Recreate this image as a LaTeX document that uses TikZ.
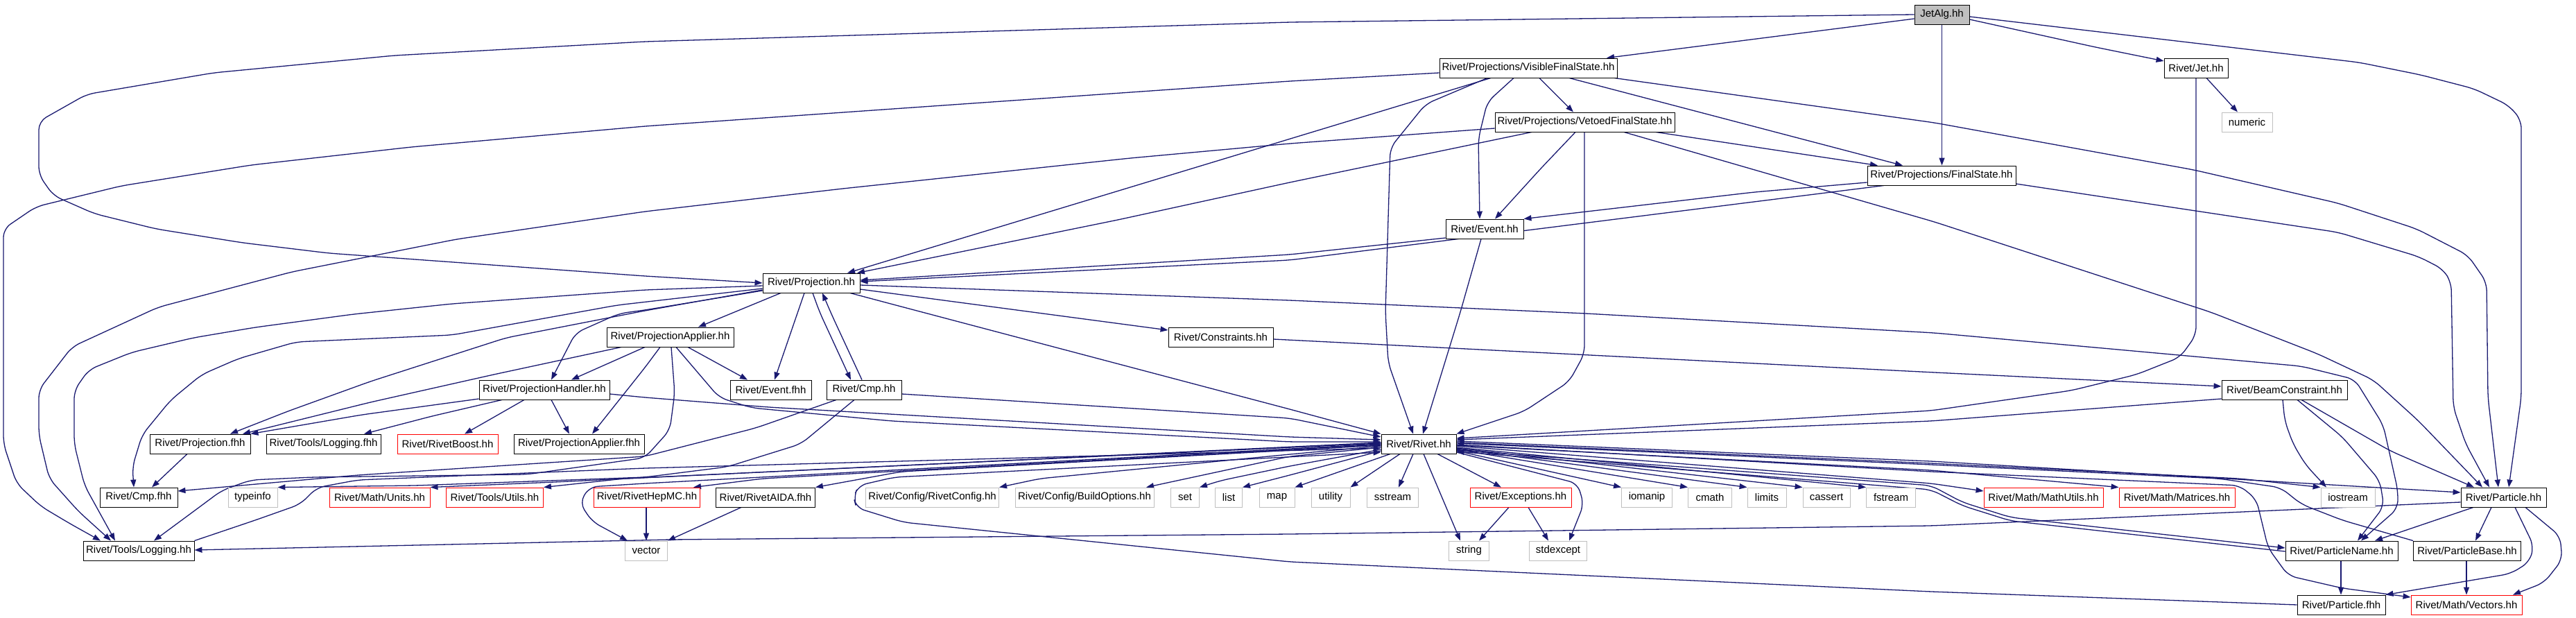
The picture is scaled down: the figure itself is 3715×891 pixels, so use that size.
\documentclass[tikz,border=0pt]{standalone}
\usepackage{fontspec}
\setmainfont{Liberation Sans}
\usetikzlibrary{arrows.meta,backgrounds}
\definecolor{edgeblue}{RGB}{25,25,112}
\definecolor{lgray}{RGB}{191,191,191}
\newcommand\nodefont{\fontsize{15}{18}\selectfont}
\begin{document}
\begin{tikzpicture}[x=1pt,y=-1pt,
  nd/.style={draw=black, line width=0.9pt, fill=white, minimum height=28pt, inner sep=0pt, font=\nodefont, text=black},
  sys/.style={nd, draw=lgray},
  und/.style={nd, draw=red},
  e/.style={draw=edgeblue, line width=1.3pt, -{Triangle[length=11pt,width=8pt]}, rounded corners=12pt}]
\useasboundingbox (0,0) rectangle (3715,891);
% nodes
\node[nd, fill=lgray, minimum width=79pt] (jetalg) at (2800.5,21) {JetAlg.hh};
\node[nd, minimum width=256pt] (vfs) at (2204,98) {Rivet/Projections/VisibleFinalState.hh};
\node[nd, minimum width=259pt] (vetoed) at (2285.5,176) {Rivet/Projections/VetoedFinalState.hh};
\node[nd, minimum width=214pt] (fs) at (2800,253) {Rivet/Projections/FinalState.hh};
\node[nd, minimum width=92pt] (jet) at (3167,98) {Rivet/Jet.hh};
\node[sys, minimum width=73pt] (numeric) at (3240.5,176) {numeric};
\node[nd, minimum width=112pt] (event) at (2141,330) {Rivet/Event.hh};
\node[nd, minimum width=140pt] (proj) at (1170,408) {Rivet/Projection.hh};
\node[nd, minimum width=183pt] (papp) at (966.5,486) {Rivet/ProjectionApplier.hh};
\node[nd, minimum width=151pt] (constr) at (1760.5,486) {Rivet/Constraints.hh};
\node[nd, minimum width=188pt] (phand) at (785,562) {Rivet/ProjectionHandler.hh};
\node[nd, minimum width=117pt] (eventf) at (1111.5,562) {Rivet/Event.fhh};
\node[nd, minimum width=108pt] (cmp) at (1246,562) {Rivet/Cmp.hh};
\node[nd, minimum width=181pt] (beam) at (3294.5,562) {Rivet/BeamConstraint.hh};
\node[nd, minimum width=145pt] (projf) at (288.5,640) {Rivet/Projection.fhh};
\node[nd, minimum width=165pt] (logf) at (466.5,640) {Rivet/Tools/Logging.fhh};
\node[und, minimum width=145pt] (boost) at (645.5,640) {Rivet/RivetBoost.hh};
\node[nd, minimum width=188pt] (pappf) at (835,640) {Rivet/ProjectionApplier.fhh};
\node[nd, minimum width=108pt] (rivet) at (2046,640) {Rivet/Rivet.hh};
\node[nd, minimum width=112pt] (cmpf) at (200,717) {Rivet/Cmp.fhh};
\node[sys, minimum width=71pt] (typeinfo) at (364.5,717) {typeinfo};
\node[und, minimum width=145pt] (units) at (547.5,717) {Rivet/Math/Units.hh};
\node[und, minimum width=140pt] (utils) at (713.5,717) {Rivet/Tools/Utils.hh};
\node[und, minimum width=153pt] (hepmc) at (933,717) {Rivet/RivetHepMC.hh};
\node[nd, minimum width=143pt] (aida) at (1104,717) {Rivet/RivetAIDA.fhh};
\node[sys, minimum width=192pt] (rconfig) at (1344.6,717) {Rivet/Config/RivetConfig.hh};
\node[sys, minimum width=200pt] (bopts) at (1564,717) {Rivet/Config/BuildOptions.hh};
\node[sys, minimum width=41pt] (nset) at (1709,717) {set};
\node[sys, minimum width=39pt] (nlist) at (1772,717) {list};
\node[sys, minimum width=51pt] (nmap) at (1841.5,717) {map};
\node[sys, minimum width=56pt] (utility) at (1919,717) {utility};
\node[sys, minimum width=74pt] (sstream) at (2008.5,717) {sstream};
\node[und, minimum width=146pt] (except) at (2193,717) {Rivet/Exceptions.hh};
\node[sys, minimum width=73pt] (iomanip) at (2375,717) {iomanip};
\node[sys, minimum width=63pt] (cmath) at (2466,717) {cmath};
\node[sys, minimum width=56pt] (limits) at (2548,717) {limits};
\node[sys, minimum width=68pt] (cassert) at (2634,717) {cassert};
\node[sys, minimum width=71pt] (fstream) at (2727,717) {fstream};
\node[und, minimum width=172pt] (mathutils) at (2947,717) {Rivet/Math/MathUtils.hh};
\node[und, minimum width=167pt] (matrices) at (3139.5,717) {Rivet/Math/Matrices.hh};
\node[sys, minimum width=78pt] (iostream) at (3386,717) {iostream};
\node[nd, minimum width=123pt] (particle) at (3610.5,717) {Rivet/Particle.hh};
\node[nd, minimum width=160pt] (logging) at (200,794) {Rivet/Tools/Logging.hh};
\node[sys, minimum width=61pt] (nvector) at (932,794) {vector};
\node[sys, minimum width=58pt] (nstring) at (2118.5,794) {string};
\node[sys, minimum width=83pt] (stdexcept) at (2247,794) {stdexcept};
\node[nd, minimum width=162pt] (pname) at (3377,794) {Rivet/ParticleName.hh};
\node[nd, minimum width=155pt] (pbase) at (3558,794) {Rivet/ParticleBase.hh};
\node[nd, minimum width=127pt] (particlef) at (3376.5,872) {Rivet/Particle.fhh};
\node[und, minimum width=160pt] (vectors) at (3557,872) {Rivet/Math/Vectors.hh};
% edges
\begin{scope}[on background layer]
% JetAlg
\draw[e] (jetalg.west) -- (1860,32) -- (930,60) -- (569,80) -- (308,105) -- (125,136) -- (56,175) -- (56,252) -- (77,282) -- (136,308) -- (225,330) -- (350,350) -- (474,365) -- (930,398) -- (proj.west);
\draw[e] (jetalg.west |- 0,27) -- (vfs.north -| 2317,0);
\draw[e] (jetalg.south) -- (jetalg.south |- fs.north);
\draw[e] (jetalg.east |- 0,28) -- (3022,68) -- (jet.west |- 0,88);
\draw[e] (jetalg.east |- 0,24) -- (3402,90) -- (3491,108) -- (3568,128) -- (3618,152) -- (3636,173) -- (3636,573) -- (particle.north -| 3618,0);
% VisibleFinalState
\draw[e] (vfs.south -| 2220,0) -- (vetoed.north -| 2269,0);
\draw[e] (vfs.south -| 2183,0) -- (2145,147) -- (2132,200) -- (event.north -| 2134,0);
\draw[e] (vfs.south -| 2150,0) -- (proj.north -| 1222,0);
\draw[e] (vfs.south -| 2145,0) -- (2056,150) -- (2005,213) -- (1998,450) -- (2002,523) -- (rivet.north -| 2038,0);
\draw[e] (vfs.south -| 2263,0) -- (fs.north -| 2744,0);
\draw[e] (vfs.south -| 2328,0) -- (2790,177) -- (3164,245) -- (3372,293) -- (3485,330) -- (3559,368) -- (3586,407) -- (3588,573) -- (particle.north -| 3603,0);
\draw[e] (vfs.west |- 0,105) -- (1860,117) -- (930,182) -- (593,212) -- (362,238) -- (175,268) -- (52,298) -- (5,330) -- (5,640) -- (24,697) -- (59,730) -- (101,755) -- (logging.north -| 145,0);
% VetoedFinalState
\draw[e] (vetoed.west |- 0,185) -- (1860,207) -- (1630,228) -- (1215,272) -- (930,305) -- (658,345) -- (421,392) -- (228,443) -- (104,500) -- (56,562) -- (56,627) -- (71,690) -- (113,737) -- (logging.north -| 160,0);
\draw[e] (vetoed.south -| 2209,0) -- (1860,263) -- (1612,317) -- (proj.north -| 1236,0);
\draw[e] (vetoed.south -| 2272,0) -- (2222,243) -- (event.north -| 2156,0);
\draw[e] (vetoed.south -| 2285,0) -- (2285,510) -- (2263,550) -- (2198,593) -- (rivet.north east);
\draw[e] (vetoed.south -| 2388,0) -- (fs.north -| 2708,0);
\draw[e] (vetoed.south -| 2342,0) -- (2790,320) -- (3188,450) -- (3342,510) -- (3423,548) -- (3488,607) -- (particle.north -| 3580,0);
% FinalState
\draw[e] (fs.west |- 0,263) -- (2530,277) -- (event.north east);
\draw[e] (fs.south -| 2717,0) -- (1860,375) -- (proj.east |- 0,406);
\draw[e] (fs.east |- 0,265) -- (3372,335) -- (3488,370) -- (3523,388) -- (3535,407) -- (3538,587) -- (3556,640) -- (particle.north -| 3590,0);
% Jet, Event
\draw[e] (jet.south -| 3182,0) -- (numeric.north -| 3227,0);
\draw[e] (jet.south) -- (3167,483) -- (3144,515) -- (3081,540) -- (2987,563) -- (2785,592) -- (rivet.east |- 0,632);
\draw[e] (event.west |- 0,343) -- (1860,367) -- (proj.east |- 0,404);
\draw[e] (event.south -| 2136,0) -- (2106,450) -- (rivet.north -| 2052,0);
% Projection.hh
\draw[e] (proj.south -| 1126,0) -- (papp.north -| 1007,0);
\draw[e] (proj.west |- 0,419) -- (930,447) -- (893,452) -- (830,480) -- (phand.north -| 795,0);
\draw[e] (proj.west |- 0,418) -- (930,448) -- (730,487) -- (534,550) -- (415,593) -- (projf.north -| 332,0);
\draw[e] (proj.west |- 0,416) -- (890,440) -- (652,483) -- (427,493) -- (344,517) -- (291,540) -- (246,577) -- (205,627) -- (191,673) -- (cmpf.north -| 193,0);
\draw[e] (proj.west |- 0,412) -- (930,418) -- (652,438) -- (510,453) -- (368,472) -- (279,487) -- (190,508) -- (128,533) -- (107,563) -- (107,640) -- (122,700) -- (logging.north -| 166,0);
\draw[e] (proj.south -| 1160,0) -- (eventf.north -| 1117,0);
\draw[e] (proj.south -| 1172,0) -- (1182,450) -- (cmp.north -| 1227,0);
\draw[e] (cmp.north -| 1243,0) -- (1200,455) -- (proj.south -| 1186,0);
\draw[e] (proj.south -| 1226,0) -- (1292,440) -- (1860,590) -- (rivet.north west);
\draw[e] (proj.east |- 0,417) -- (constr.west |- 0,476);
\draw[e] (proj.east |- 0,411) -- (1860,433) -- (2287,452) -- (2790,480) -- (3319,528) -- (3396,547) -- (3437,613) -- (3458,707) -- (3458,733) -- (pname.north -| 3405,0);
% ProjectionApplier.hh
\draw[e] (papp.south -| 896,0) -- (712,540) -- (534,580) -- (projf.north -| 350,0);
\draw[e] (papp.south -| 930,0) -- (phand.north -| 824,0);
\draw[e] (papp.south -| 952,0) -- (930,530) -- (pappf.north -| 854,0);
\draw[e] (papp.south -| 968,0) -- (973,567) -- (966,620) -- (930,660) -- (760,684) -- (451,688) -- (362,692) -- (320,707) -- (285,733) -- (logging.north -| 222,0);
\draw[e] (papp.south -| 992,0) -- (eventf.north -| 1078,0);
\draw[e] (papp.south -| 975,0) -- (1037,573) -- (1084,588) -- (1286,607) -- (1860,637) -- (rivet.west |- 0,637);
% Cmp.hh
\draw[e] (cmp.south -| 1232,0) -- (1155,640) -- (1049,673) -- (930,688) -- (600,700) -- (typeinfo.north east);
\draw[e] (cmp.south -| 1206,0) -- (1090,617) -- (930,658) -- (516,685) -- (cmpf.east |- 0,708);
\draw[e] (cmp.east |- 0,568) -- (1860,603) -- (rivet.west |- 0,630);
% ProjectionHandler.hh
\draw[e] (phand.west |- 0,575) -- (522,598) -- (projf.north east);
\draw[e] (phand.south -| 724,0) -- (623,600) -- (logf.north -| 525,0);
\draw[e] (phand.south -| 756,0) -- (boost.north -| 670,0);
\draw[e] (phand.south -| 795,0) -- (pappf.north -| 821,0);
\draw[e] (phand.east |- 0,568) -- (930,573) -- (1108,587) -- (1860,630) -- (rivet.west |- 0,634);
\draw[e] (projf.south -| 270,0) -- (cmpf.north -| 219,0);
% Rivet.hh, left side
\draw[e] (rivet.south -| 2005,0) -- (nmap.north east);
\draw[e] (rivet.west |- 0,650) -- (1860,685) -- (nlist.north east);
\draw[e] (rivet.west |- 0,648) -- (1860,672) -- (1760,693) -- (nset.north east);
\draw[e] (rivet.west |- 0,645) -- (1860,658) -- (bopts.north -| 1653,0);
\draw[e] (rivet.west |- 0,643) -- (1860,655) -- (1500,690) -- (rconfig.north east);
\draw[e] (rivet.west |- 0,642) -- (1300,680) -- (aida.north east);
\draw[e] (rivet.west |- 0,641) -- (1100,690) -- (hepmc.north -| 1000,0);
\draw[e] (rivet.west |- 0,640) -- (930,697) -- (850,702) -- (836,725) -- (854,752) -- (nvector.north -| 905,0);
\draw[e] (rivet.west |- 0,639) -- (900,690) -- (utils.north east);
\draw[e] (rivet.west |- 0,638) -- (800,695) -- (units.north east);
% Rivet.hh, below
\draw[e] (rivet.south -| 2019,0) -- (utility.north east);
\draw[e] (rivet.south -| 2038,0) -- (sstream.north -| 2017,0);
\draw[e] (rivet.south -| 2053,0) -- (nstring.north -| 2106,0);
\draw[e] (rivet.south -| 2073,0) -- (except.north -| 2165,0);
\draw[e] (rivet.east |- 0,652) -- (2275,697) -- (2284,727) -- (stdexcept.north -| 2263,0);
\draw[e] (rivet.east |- 0,650) -- (iomanip.north west);
\draw[e] (rivet.east |- 0,648) -- (cmath.north west);
\draw[e] (rivet.east |- 0,647) -- (limits.north west);
\draw[e] (rivet.east |- 0,646) -- (cassert.north west);
\draw[e] (rivet.east |- 0,645) -- (fstream.north west);
% Rivet.hh, right side
\draw[e] (rivet.east |- 0,643) -- (2785,697) -- (mathutils.west |- 0,708);
\draw[e] (rivet.east |- 0,642) -- (2785,678) -- (matrices.north west);
\draw[e] (rivet.east |- 0,638) -- (2785,668) -- (3230,690) -- (iostream.north west);
\draw[e] (rivet.east |- 0,636) -- (2785,665) -- (particle.west |- 0,710);
\draw[e] (rivet.east |- 0,649) -- (2785,700) -- (2830,724) -- (2900,746) -- (pname.west |- 0,790);
\draw[e] (pname.west |- 0,795) -- (2900,751) -- (2830,729) -- (2785,706) -- (rivet.east |- 0,651);
\draw[e] (rivet.east |- 0,641) -- (2785,680) -- (3230,700) -- (3254,720) -- (3271,790) -- (3300,830) -- (3378,848) -- (vectors.west |- 0,861);
\draw[e] (pbase.north west) -- (3378,750) -- (3319,727) -- (3289,703) -- (3200,690) -- (2785,670) -- (rivet.east |- 0,639);
% Particle.hh etc
\draw[e] (particle.west |- 0,724) -- (2785,758) -- (1860,770) -- (966,778) -- (logging.east |- 0,793);
\draw[e] (particlef.west) -- (2785,853) -- (1860,810) -- (1303,753) -- (1235,732) -- (1231,717) -- (1238,700) -- (1290,688) -- (rivet.west |- 0,652);
\draw[e] (logging.north east) -- (368,750) -- (433,727) -- (457,703) -- (516,692) -- (930,675) -- (rivet.west |- 0,646);
\draw[e] (particle.south -| 3567,0) -- (pname.north -| 3425,0);
\draw[e] (particle.south -| 3593,0) -- (pbase.north -| 3570,0);
\draw[e] (particle.south -| 3627,0) -- (3654,787) -- (3648,810) -- (3621,827) -- (particlef.north east);
\draw[e] (particle.south -| 3642,0) -- (3692,773) -- (3695,807) -- (3669,840) -- (vectors.north -| 3624,0);
\draw[e] (pname.south -| 3376,0) -- (particlef.north -| 3376,0);
\draw[e] (pbase.south -| 3557,0) -- (vectors.north -| 3557,0);
% BeamConstraint, Constraints
\draw[e] (beam.west |- 0,575) -- (2785,607) -- (rivet.east |- 0,634);
\draw[e] (beam.south -| 3292,0) -- (3295,607) -- (3307,640) -- (3325,670) -- (iostream.north -| 3355,0);
\draw[e] (beam.south -| 3313,0) -- (3378,630) -- (3432,693) -- (3438,730) -- (pname.north -| 3400,0);
\draw[e] (beam.south -| 3319,0) -- (3447,650) -- (particle.north -| 3568,0);
\draw[e] (constr.east |- 0,489) -- (2790,537) -- (beam.west |- 0,557);
% leaves
\draw[e] (hepmc.south -| 932,0) -- (nvector.north -| 932,0);
\draw[e] (aida.south -| 1069,0) -- (nvector.north east);
\draw[e] (except.south -| 2176,0) -- (nstring.north -| 2133,0);
\draw[e] (except.south -| 2204,0) -- (stdexcept.north -| 2233,0);
\end{scope}
\end{tikzpicture}
\end{document}
